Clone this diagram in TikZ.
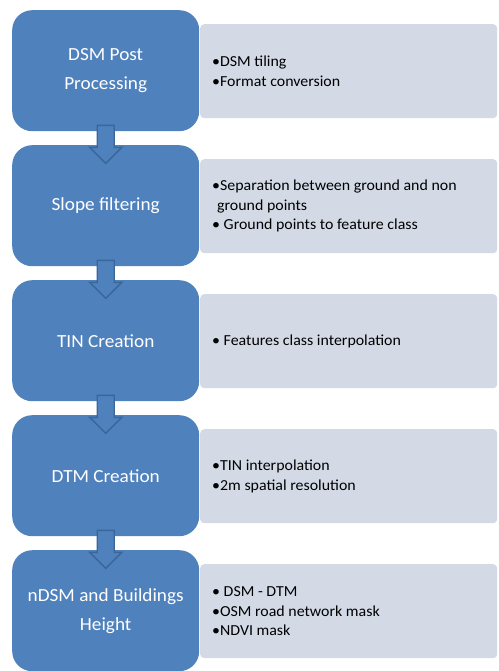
\documentclass[tikz,border=0pt]{standalone}
\usepackage{fontspec}
\setmainfont{Carlito}[FakeStretch=1.04]
\usetikzlibrary{calc}
\definecolor{stepblue}{HTML}{4F81BD}
\definecolor{stepedge}{HTML}{3A6699}
\definecolor{notegray}{HTML}{D3DAE6}
\tikzset{
  stepbox/.style={fill=stepblue, draw=none, rounded corners=20pt, minimum width=187pt, minimum height=121pt,
    anchor=north west, text=white, align=center, font=\fontsize{18.5}{29}\selectfont, inner sep=0pt},
  notebox/.style={fill=notegray, draw=none, rounded corners=4pt, minimum width=297pt, minimum height=94pt,
    anchor=north west, inner sep=0pt},
  notetext/.style={anchor=west, align=left, font=\fontsize{15.3}{19.5}\selectfont, text=black, inner sep=0pt},
  flowarrow/.style={fill=stepblue, draw=stepedge, line width=1.4pt, line join=miter},
}
\newcommand{\downarrowshape}[1]{%
  \draw[flowarrow] ($(#1.south)+(-8.5,-6)$) -- ($(#1.south)+(8.5,-6)$) -- ($(#1.south)+(8.5,16)$)
    -- ($(#1.south)+(16,16)$) -- ($(#1.south)+(0,32)$) -- ($(#1.south)+(-16,16)$)
    -- ($(#1.south)+(-8.5,16)$) -- cycle;}
\begin{document}
\begin{tikzpicture}[x=1pt,y=-1pt]
\useasboundingbox (0,0) rectangle (498,671);
\fill[white] (0,0) rectangle (498,671);

\node[stepbox] (b1) at (12,10) {DSM Post\\Processing};
\node[stepbox] (b2) at (12,145) {Slope filtering};
\node[stepbox] (b3) at (12,280) {TIN Creation};
\node[stepbox] (b4) at (12,415) {DTM Creation};
\node[stepbox] (b5) at (12,550) {nDSM and Buildings\\Height};

\node[notebox] (g1) at (200,24) {};
\node[notebox] (g2) at (200,159) {};
\node[notebox] (g3) at (200,294) {};
\node[notebox] (g4) at (200,429) {};
\node[notebox] (g5) at (200,564) {};

\node[notetext] (t1) at ($(g1.west)+(12,0)$) {•DSM tiling\\•Format conversion};
\node[notetext] (t2) at ($(g2.west)+(12,0)$) {•Separation between ground and non\\\hspace{5pt}ground points\\• Ground points to feature class};
\node[notetext] (t3) at ($(g3.west)+(12,0)$) {• Features class interpolation};
\node[notetext] (t4) at ($(g4.west)+(12,0)$) {•TIN interpolation\\•2m spatial resolution};
\node[notetext] (t5) at ($(g5.west)+(12,0)$) {• DSM - DTM\\•OSM road network mask\\•NDVI mask};

\downarrowshape{b1}
\downarrowshape{b2}
\downarrowshape{b3}
\downarrowshape{b4}
\end{tikzpicture}
\end{document}
